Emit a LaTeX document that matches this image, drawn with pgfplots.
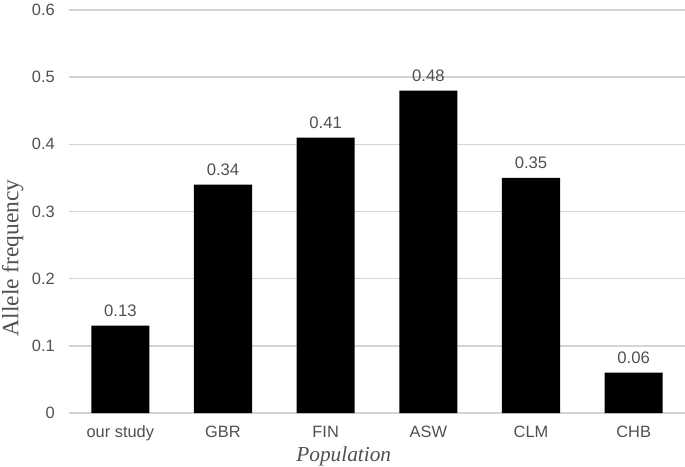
\documentclass[border=0pt]{standalone}
\usepackage{fontspec}
\setmainfont{Liberation Sans}
\newfontfamily\serifx{Liberation Serif}
\usepackage{pgfplots}
\pgfplotsset{compat=1.18}
\definecolor{txt}{HTML}{505050}
\definecolor{grd}{HTML}{D4D4D4}
\begin{document}
\begin{tikzpicture}
\path[use as bounding box] (-51.75pt,-40.5pt) rectangle (462pt,309.75pt);
\begin{axis}[
  at={(0,0)}, anchor=south west,
  scale only axis, width=462pt, height=302.25pt,
  xmin=-0.5, xmax=5.5, ymin=0, ymax=0.6,
  ytick={0,0.1,...,0.6},
  yticklabels={0,0.1,0.2,0.3,0.4,0.5,0.6},
  xtick={0,1,2,3,4,5},
  xticklabels={our study,GBR,FIN,ASW,CLM,CHB},
  major tick length=0pt,
  axis line style={draw=none},
  ymajorgrids, grid style={grd, line width=1.2pt},
  tick label style={font=\fontsize{12.3}{14}\selectfont, text=txt},
  yticklabel style={anchor=east, inner sep=0pt, xshift=-10.5pt},
  xticklabel style={anchor=north, inner sep=0pt, yshift=-9.5pt},
  /pgf/number format/assume math mode=true,
  xlabel={\serifx\itshape Population},
  ylabel={\serifx Allele frequency},
  xlabel style={at={(axis description cs:0.446,-0.108)}, anchor=center, font=\fontsize{16}{18}\selectfont, text=txt},
  ylabel style={at={(axis description cs:-0.0915,0.385)}, anchor=center, inner sep=0pt, rotate=0, font=\fontsize{17.6}{20}\selectfont, text=txt},
  nodes near coords,
  nodes near coords style={font=\fontsize{12.5}{14}\selectfont, text=txt, anchor=south, inner sep=0pt, yshift=6.5pt,
    /pgf/number format/.cd, fixed, precision=2, fixed zerofill=false},
]
\addplot[ybar, bar width=0.565, fill=black, draw=none] coordinates {
  (0,0.13) (1,0.34) (2,0.41) (3,0.48) (4,0.35) (5,0.06)
};
\end{axis}
\end{tikzpicture}
\end{document}
